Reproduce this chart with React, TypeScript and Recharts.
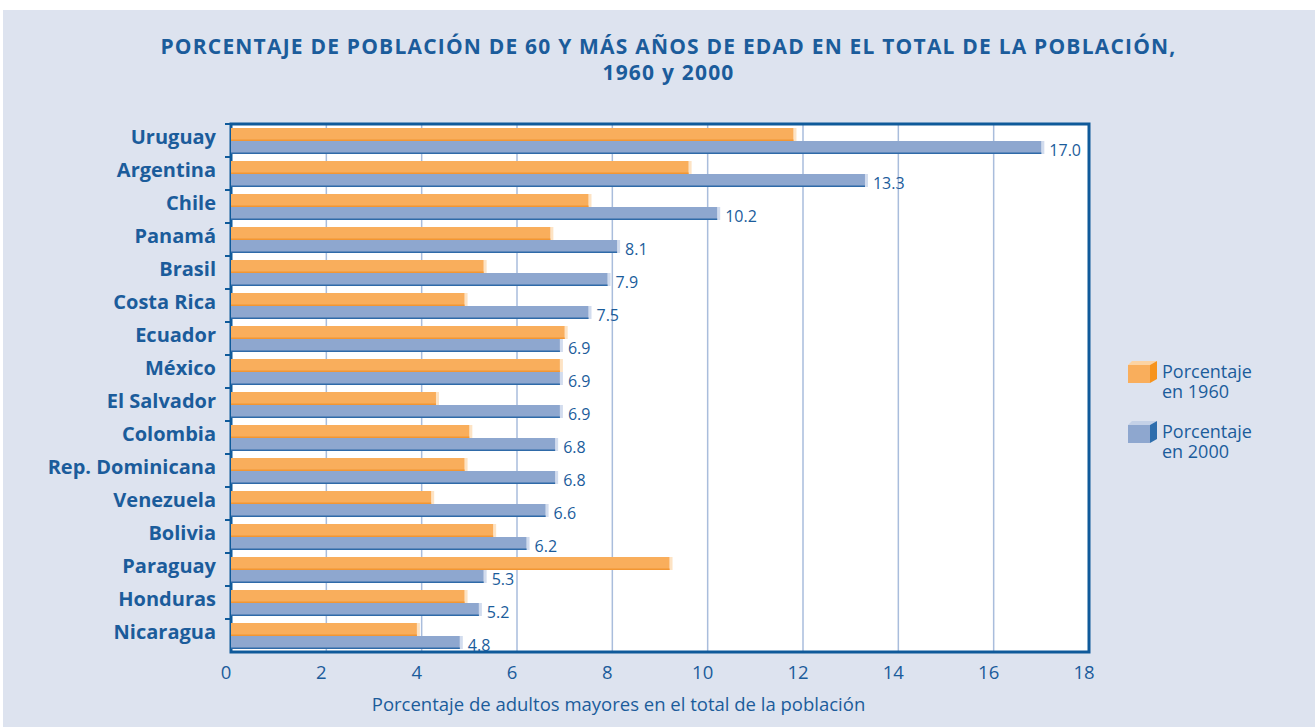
import React from 'react';
import {
    BarChart,
    Bar,
    XAxis,
    YAxis,
    CartesianGrid,
    ReferenceArea,
    LabelList,
} from 'recharts';

const countries = [
    'Uruguay', 'Argentina', 'Chile', 'Panamá', 'Brasil', 'Costa Rica', 'Ecuador', 'México',
    'El Salvador', 'Colombia', 'Rep. Dominicana', 'Venezuela', 'Bolivia', 'Paraguay', 'Honduras', 'Nicaragua',
];
const pct1960 = [11.8, 9.6, 7.5, 6.7, 5.3, 4.9, 7.0, 6.9, 4.3, 5.0, 4.9, 4.2, 5.5, 9.2, 4.9, 3.9];
const pct2000 = [17.0, 13.3, 10.2, 8.1, 7.9, 7.5, 6.9, 6.9, 6.9, 6.8, 6.8, 6.6, 6.2, 5.3, 5.2, 4.8];
const xTicks = [0, 2, 4, 6, 8, 10, 12, 14, 16, 18];

const seriesNames = ['Porcentaje en 1960', 'Porcentaje en 2000'];
const legendLines = [
    ['Porcentaje', 'en 1960'],
    ['Porcentaje', 'en 2000'],
];
const titleLines = [
    'PORCENTAJE DE POBLACIÓN DE 60 Y MÁS AÑOS DE EDAD EN EL TOTAL DE LA POBLACIÓN,',
    '1960 y 2000',
];
const xAxisTitle = 'Porcentaje de adultos mayores en el total de la población';

const BLUE_TEXT = '#1b5c9b';
const FRAME = '#0f5a9a';
const ORANGE = '#f9ae5c';
const ORANGE_EDGE = '#f29633';
const ORANGE_LIGHT = '#fde3c4';
const BLUE = '#8ea7cf';
const BLUE_EDGE = '#2f6aa8';
const BLUE_LIGHT = '#d2dcee';
const FONT = '"Open Sans", "Noto Sans", sans-serif';

const PLOT_LEFT = 231;
const PLOT_TOP = 124;
const PLOT_BOTTOM = 652;
const BAND = (PLOT_BOTTOM - PLOT_TOP) / countries.length;

const chartData = countries.map((c, i) => ({
    country: c,
    y1960: pct1960[i],
    y2000: pct2000[i],
}));

const makeBarShape = (fill: string, edge: string, light: string) => (props: any) => {
    const { x, y, width, height } = props;
    if (width <= 0) return null;
    return (
        <g>
            <rect x={x + width} y={y} width={3} height={height} fill={light} />
            <rect x={x} y={y} width={width} height={height} fill={fill} />
            <rect x={x} y={y + height - 1.5} width={width} height={1.5} fill={edge} />
        </g>
    );
};

const CountryTick = (props: any) => {
    const { y, payload } = props;
    return (
        <g>
            <line x1={PLOT_LEFT - 6} x2={PLOT_LEFT} y1={y - BAND / 2} y2={y - BAND / 2} stroke={FRAME} strokeWidth={2} />
            <text
                x={216}
                y={y - BAND / 2 + 12}
                textAnchor="end"
                dominantBaseline="central"
                fill={BLUE_TEXT}
                fontFamily={FONT}
                fontWeight={700}
                fontSize={20}
            >
                {payload.value}
            </text>
        </g>
    );
};

const ValueTick = (props: any) => {
    const { x, payload } = props;
    return (
        <text
            x={x - 5}
            y={671}
            textAnchor="middle"
            dominantBaseline="central"
            fill={BLUE_TEXT}
            fontFamily={FONT}
            fontSize={18.5}
        >
            {payload.value}
        </text>
    );
};

const ValueLabel = (props: any) => {
    const { x, y, width, height, value } = props;
    return (
        <text
            x={x + width + 8}
            y={y + height / 2 + 2}
            dominantBaseline="central"
            fill={BLUE_TEXT}
            fontFamily={FONT}
            fontSize={16}
        >
            {Number(value).toFixed(1)}
        </text>
    );
};

const LegendBox = ({ front, side, top }: { front: string; side: string; top: string }) => (
    <svg width={30} height={22} style={{ display: 'block' }}>
        <polygon points="0,4 22,4 22,22 0,22" fill={front} />
        <polygon points="0,4 4,0 29,0 22,4" fill={top} />
        <polygon points="22,4 29,0 29,18 22,22" fill={side} />
    </svg>
);

const legendColors = [
    { front: ORANGE, side: '#f7941d', top: '#fcd3a3' },
    { front: BLUE, side: '#2e6ead', top: '#c4d1e7' },
];

export default function App() {
    return (
        <div
            style={{
                position: 'fixed',
                left: 0,
                top: 0,
                width: 1315,
                height: 727,
                background: '#ffffff',
                fontFamily: FONT,
            }}
        >
            <div
                style={{
                    position: 'absolute',
                    left: 3,
                    top: 10,
                    width: 1312,
                    height: 717,
                    background: '#dde3ef',
                }}
            />
            <div
                style={{
                    position: 'absolute',
                    left: 0,
                    top: 33,
                    width: 1337,
                    textAlign: 'center',
                    color: BLUE_TEXT,
                    fontWeight: 700,
                    fontSize: 21,
                    letterSpacing: 1.2,
                    lineHeight: '26px',
                }}
            >
                {titleLines.map((t) => (
                    <div key={t}>{t}</div>
                ))}
            </div>

            <div style={{ position: 'absolute', left: 0, top: 0 }}>
                <BarChart
                    width={1315}
                    height={727}
                    data={chartData}
                    layout="vertical"
                    margin={{ top: PLOT_TOP, right: 226, bottom: 45, left: 0 }}
                    barGap={0}
                    barSize={13}
                >
                    <CartesianGrid horizontal={false} stroke="#a9bddc" strokeWidth={1.5} fill="#ffffff" />
                    <XAxis
                        type="number"
                        domain={[0, 18]}
                        ticks={xTicks}
                        height={30}
                        axisLine={false}
                        tickLine={false}
                        tick={(p: any) => <ValueTick {...p} />}
                        interval={0}
                    />
                    <YAxis
                        type="category"
                        dataKey="country"
                        width={PLOT_LEFT}
                        axisLine={false}
                        tickLine={false}
                        interval={0}
                        tick={(p: any) => <CountryTick {...p} />}
                    />
                    <Bar
                        dataKey="y1960"
                        name={seriesNames[0]}
                        fill={ORANGE}
                        shape={makeBarShape(ORANGE, ORANGE_EDGE, ORANGE_LIGHT)}
                        isAnimationActive={false}
                    />
                    <Bar
                        dataKey="y2000"
                        name={seriesNames[1]}
                        fill={BLUE}
                        shape={makeBarShape(BLUE, BLUE_EDGE, BLUE_LIGHT)}
                        isAnimationActive={false}
                    >
                        <LabelList dataKey="y2000" content={(p: any) => <ValueLabel {...p} />} />
                    </Bar>
                    <ReferenceArea x1={0} x2={18} fill="none" stroke={FRAME} strokeWidth={3} ifOverflow="visible" />
                </BarChart>
            </div>

            <div
                style={{
                    position: 'absolute',
                    left: 0,
                    top: 692,
                    width: 1237,
                    textAlign: 'center',
                    color: BLUE_TEXT,
                    fontSize: 18.5,
                    lineHeight: '24px',
                }}
            >
                {xAxisTitle}
            </div>

            <div style={{ position: 'absolute', left: 1128, top: 361, color: BLUE_TEXT, fontSize: 18 }}>
                {legendLines.map((lines, i) => (
                    <div key={i} style={{ display: 'flex', alignItems: 'flex-start', marginTop: i === 0 ? 0 : 20 }}>
                        <LegendBox {...legendColors[i]} />
                        <div style={{ marginLeft: 4 }}>
                            {lines.map((l) => (
                                <div key={l} style={{ height: 20, lineHeight: '20px' }}>
                                    {l}
                                </div>
                            ))}
                        </div>
                    </div>
                ))}
            </div>
        </div>
    );
}
